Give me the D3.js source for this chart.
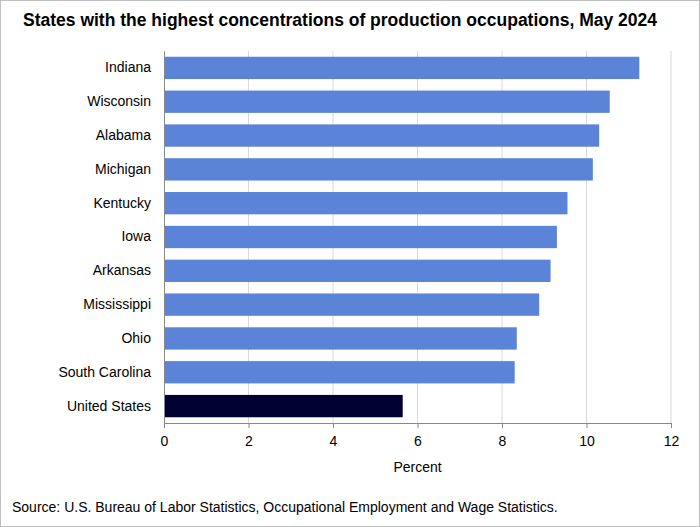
<!DOCTYPE html>
<html><head><meta charset="utf-8">
<script src="https://cdn.jsdelivr.net/npm/d3@7"></script>
<style>body{margin:0;background:#fff;font-family:Arial,"Liberation Sans",sans-serif}</style>
</head><body><div id="chart"></div>
<script>
var states = ["Indiana","Wisconsin","Alabama","Michigan","Kentucky","Iowa","Arkansas","Mississippi","Ohio","South Carolina","United States"];
var values = [11.25,10.55,10.3,10.15,9.55,9.3,9.15,8.88,8.35,8.3,5.65];
var ticks = [0,2,4,6,8,10,12];

var width = 700, height = 527;
var margin = {top: 51, right: 29, bottom: 104, left: 164};
var svg = d3.select("#chart").append("svg").attr("width", width).attr("height", height);
svg.append("rect").attr("x",0.5).attr("y",0.5).attr("width",width-1).attr("height",height-1)
    .attr("fill","#fff").attr("stroke","#bfbfbf");

var x = d3.scaleLinear().domain([0,12]).range([margin.left, width - margin.right]);
var y = d3.scaleBand().domain(states).range([margin.top, height - margin.bottom]).paddingInner(0.34).paddingOuter(0.17);

svg.append("text").attr("x",340).attr("y",26).attr("text-anchor","middle")
    .style("font-weight","bold").style("font-size","17.5px").text("States with the highest concentrations of production occupations, May 2024");

svg.selectAll(".grid").data(ticks.slice(1)).enter().append("line")
    .attr("x1", d => x(d)).attr("x2", d => x(d))
    .attr("y1", margin.top).attr("y2", height - margin.bottom)
    .attr("stroke","#d9d9d9");

svg.selectAll(".bar").data(states).enter().append("rect")
    .attr("x", x(0)).attr("y", d => y(d))
    .attr("width", (d,i) => x(values[i]) - x(0)).attr("height", y.bandwidth())
    .attr("fill", d => d === "United States" ? "#000033" : "#5b84d8");

var ax = svg.append("g").attr("transform","translate(0," + (height - margin.bottom) + ")")
    .call(d3.axisBottom(x).tickValues(ticks).tickSize(5).tickSizeOuter(0));
ax.select(".domain").attr("stroke","#888");
ax.selectAll(".tick line").attr("stroke","#888");
ax.selectAll("text").style("font-size","14px").style("font-family","Arial,'Liberation Sans'").attr("fill","#000").attr("dy","1.1em");

var ay = svg.append("g").attr("transform","translate(" + margin.left + ",0)")
    .call(d3.axisLeft(y).tickSize(0).tickPadding(13));
ay.select(".domain").attr("stroke","#888");
ay.selectAll("text").style("font-size","14px").style("font-family","Arial,'Liberation Sans'").attr("fill","#000");

svg.append("text").attr("x", x(6)).attr("y",472).attr("text-anchor","middle").style("font-size","14px").text("Percent");
svg.append("text").attr("x",12).attr("y",512).style("font-size","14px")
    .text("Source: U.S. Bureau of Labor Statistics, Occupational Employment and Wage Statistics.");
</script></body></html>
